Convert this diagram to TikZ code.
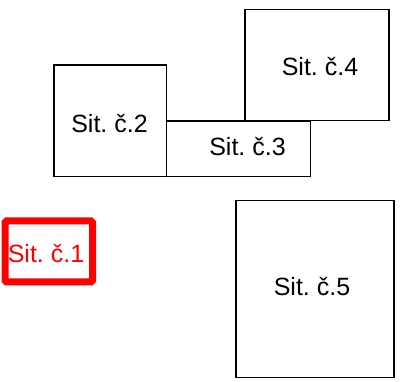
\documentclass[tikz,border=0pt]{standalone}
\usepackage{fontspec}
\setmainfont{Liberation Sans}
\frenchspacing
\begin{document}
\begin{tikzpicture}[x=1pt,y=-1pt,
  box/.style={draw=black, line width=1.4pt, inner sep=0pt, fill=none},
  redbox/.style={draw=red, line width=7pt, inner sep=0pt, rounded corners=1.5pt},
  lbl/.style={font=\fontsize{25}{30}\selectfont, inner sep=0pt, text=black},
  redlbl/.style={lbl, text=red}]
\useasboundingbox (0,0) rectangle (405,382);
\node[box, minimum width=112.7pt, minimum height=111.7pt] (b2) at (110.35,120.85) {};
\node[box, minimum width=144pt, minimum height=55.7pt] (b3) at (238.7,148.85) {};
\node[box, minimum width=144pt, minimum height=111.4pt] (b4) at (317,65) {};
\node[box, minimum width=158pt, minimum height=176.6pt] (b5) at (315,289) {};
\node[redbox, minimum width=87.5pt, minimum height=61pt] (b1) at (48.75,251.5) {};
\node[lbl] (t2) at (109.5,124) {Sit.\ č.2};
\node[lbl] (t3) at (247.5,147) {Sit.\ č.3};
\node[lbl] (t4) at (320,66.5) {Sit.\ č.4};
\node[lbl] (t5) at (312,286.7) {Sit.\ č.5};
\node[redlbl] (t1) at (46,254) {Sit.\ č.1};
\end{tikzpicture}
\end{document}
